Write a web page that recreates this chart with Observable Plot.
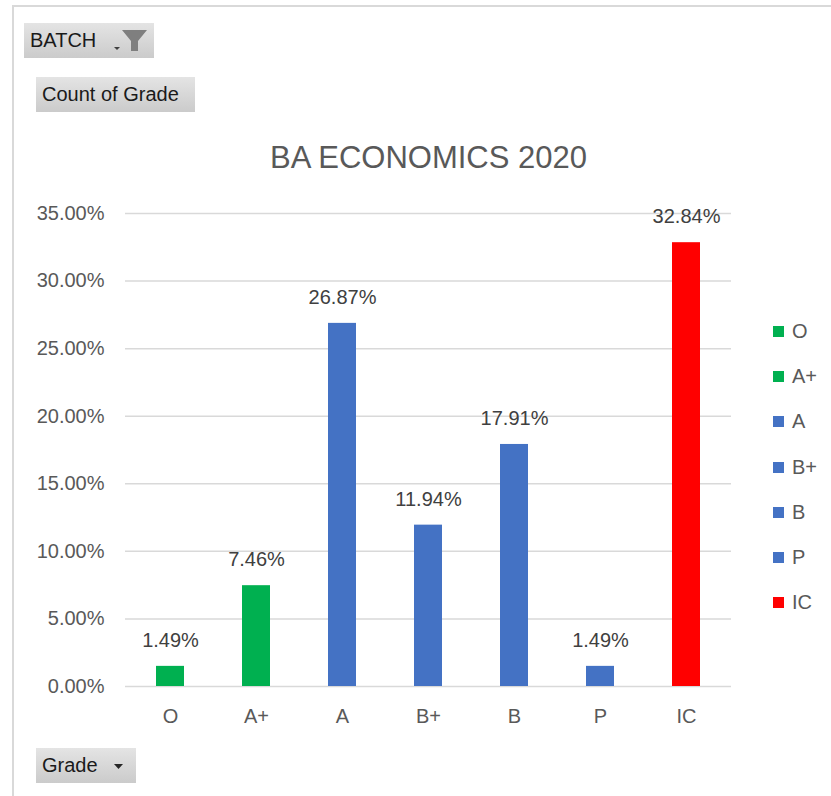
<!DOCTYPE html>
<html>
<head>
<meta charset="utf-8">
<script src="https://cdn.jsdelivr.net/npm/d3@7"></script>
<script src="https://cdn.jsdelivr.net/npm/@observablehq/plot@0.6"></script>
<style>
  html, body { margin: 0; padding: 0; background: #fff; }
  #wrap { position: relative; width: 831px; height: 796px; overflow: hidden; font-family: "Liberation Sans", Arial, sans-serif; }
  #frame { position: absolute; left: 12px; top: 5px; width: 830px; height: 800px; border-top: 2px solid #d9d9d9; border-left: 2px solid #d9d9d9; box-sizing: border-box; }
  #chart { position: absolute; left: 0; top: 0; }
  .btn { position: absolute; height: 35px; background: linear-gradient(#e4e4e4, #cbcbcb); color: #1a1a1a; font-size: 20px; line-height: 35px; box-sizing: border-box; padding-left: 6px; white-space: nowrap; }
  #legend { position: absolute; left: 773px; top: 309px; }
  .li { height: 45.2px; display: flex; align-items: center; font-size: 20px; color: #595959; }
  .sw { width: 11px; height: 11px; margin-right: 8px; }
</style>
</head>
<body>
<div id="wrap">
  <div id="frame"></div>
  <div id="chart"></div>
  <div class="btn" style="left:24px; top:23px; width:130px;">BATCH
    <svg width="40" height="28" style="position:absolute; left:88px; top:4px;">
      <path d="M2 20 L8 20 L5 23 Z" fill="#404040"/>
      <path d="M10 3 L35 3 L26 14 L26 24 L19 24 L19 14 Z" fill="#7f7f7f"/>
    </svg>
  </div>
  <div class="btn" style="left:36px; top:77px; width:159px;">Count of Grade</div>
  <div class="btn" style="left:36px; top:748px; width:100px;">Grade
    <svg width="12" height="8" style="position:absolute; left:77px; top:15px;">
      <path d="M1 1 L10 1 L5.5 6 Z" fill="#262626"/>
    </svg>
  </div>
  <div id="legend"></div>
</div>
<script>
// ---- Data ----
const chartTitle = "BA ECONOMICS 2020";
const grades = ["O", "A+", "A", "B+", "B", "P", "IC"];
const shares = [0.0149, 0.0746, 0.2687, 0.1194, 0.1791, 0.0149, 0.3284];
const yTicks = [0, 0.05, 0.10, 0.15, 0.20, 0.25, 0.30, 0.35];

// ---- Palette (styling) ----
const gradeColors = ["#00b050", "#00b050", "#4472c4", "#4472c4", "#4472c4", "#4472c4", "#ff0000"];

const data = grades.map((g, i) => ({grade: g, share: shares[i]}));
const pct = d3.format(".2%");

const chart = Plot.plot({
  width: 831,
  height: 796,
  marginLeft: 125,
  marginRight: 100,
  marginTop: 213,
  marginBottom: 110,
  style: {fontFamily: "'Liberation Sans', Arial, sans-serif", color: "#595959", background: "transparent", overflow: "visible"},
  x: {domain: grades, paddingInner: 0.68, paddingOuter: 0.34, label: null},
  y: {domain: [0, 0.35], label: null},
  color: {type: "ordinal", domain: grades, range: gradeColors},
  marks: [
    Plot.gridY(yTicks, {stroke: "#d9d9d9", strokeOpacity: 1, strokeWidth: 1.5}),
    Plot.barY(data, {x: "grade", y: "share", fill: "grade"}),
    Plot.text(data, {x: "grade", y: "share", text: d => pct(d.share), dy: -26, fontSize: 20, fill: "#404040"}),
    Plot.axisY({ticks: yTicks, tickFormat: ".2%", tickSize: 0, tickPadding: 21, fontSize: 20, label: null}),
    Plot.axisX({tickSize: 0, tickPadding: 22, fontSize: 20, label: null}),
    Plot.text([chartTitle], {frameAnchor: "top", lineAnchor: "middle", dy: -55, fontSize: 31, fill: "#595959"})
  ]
});
document.getElementById("chart").appendChild(chart);

const legend = document.getElementById("legend");
grades.forEach((g, i) => {
  const item = document.createElement("div");
  item.className = "li";
  const sw = document.createElement("span");
  sw.className = "sw";
  sw.style.background = gradeColors[i];
  item.appendChild(sw);
  item.appendChild(document.createTextNode(g));
  legend.appendChild(item);
});
</script>
</body>
</html>
